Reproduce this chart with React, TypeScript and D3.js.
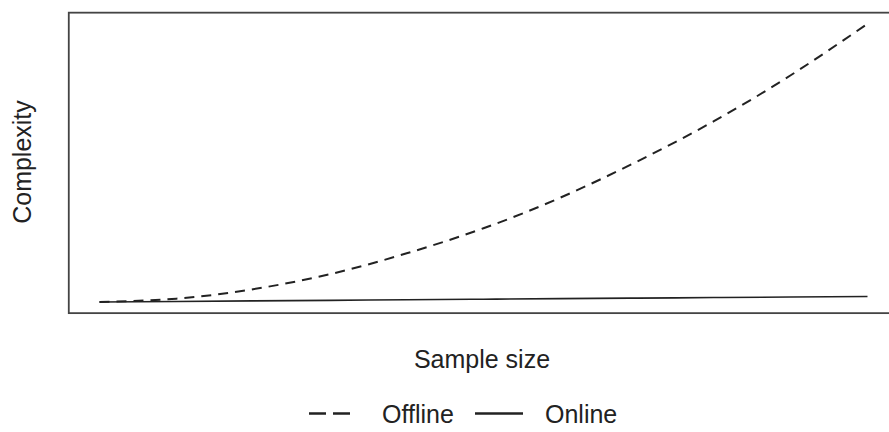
import React from "react";
import * as d3 from "d3";

const sampleSize = [0, 10, 20, 30, 40, 50, 60, 70, 80, 90, 100];
const offline = [0, 120, 460, 1000, 1750, 2650, 3750, 5050, 6500, 8150, 10000];
const online = [0, 20, 40, 60, 80, 100, 120, 140, 160, 180, 200];
const seriesNames = ["Offline", "Online"];
const xTitle = "Sample size";
const yTitle = "Complexity";

const W = 889;
const H = 432;
const FONT = "'Liberation Sans', Arial, Helvetica, sans-serif";

export default function App() {
  const x = d3.scaleLinear().domain([0, 100]).range([99.5, 867.5]);
  const y = d3.scaleLinear().domain([0, 10000]).range([302, 23.8]);
  const xPad = 4;
  const yPad = 400;
  const bx0 = x(-xPad);
  const bx1 = x(100 + xPad);
  const by0 = y(10000 + yPad);
  const by1 = y(-yPad);

  const line = (vals: number[]) =>
    d3
      .line<number>()
      .x((_, i) => x(sampleSize[i]))
      .y((v) => y(v))
      .curve(d3.curveNatural)(vals) || "";

  return (
    <svg
      width={W}
      height={H}
      style={{ position: "absolute", left: 0, top: 0, background: "#fff" }}
    >
      <rect x={0} y={0} width={W} height={H} fill="#fff" />
      <rect
        x={bx0}
        y={by0}
        width={bx1 - bx0}
        height={by1 - by0}
        fill="none"
        stroke="#444"
        strokeWidth={1.8}
      />
      <path d={line(offline)} fill="none" stroke="#222" strokeWidth={2} strokeDasharray="10,7" />
      <path d={line(online)} fill="none" stroke="#222" strokeWidth={1.6} />
      <text
        x={482}
        y={368}
        textAnchor="middle"
        fontFamily={FONT}
        fontSize={25}
        fill="#222"
      >
        {xTitle}
      </text>
      <text
        transform={`translate(31,162) rotate(-90)`}
        textAnchor="middle"
        fontFamily={FONT}
        fontSize={25}
        fill="#222"
      >
        {yTitle}
      </text>
      <g>
        <line x1={309} x2={350} y1={413.5} y2={413.5} stroke="#222" strokeWidth={2.4} strokeDasharray="17,7" />
        <text x={382} y={423} fontFamily={FONT} fontSize={25} fill="#222">
          {seriesNames[0]}
        </text>
        <line x1={475} x2={523} y1={413.5} y2={413.5} stroke="#222" strokeWidth={2.4} />
        <text x={545} y={423} fontFamily={FONT} fontSize={25} fill="#222">
          {seriesNames[1]}
        </text>
      </g>
    </svg>
  );
}
